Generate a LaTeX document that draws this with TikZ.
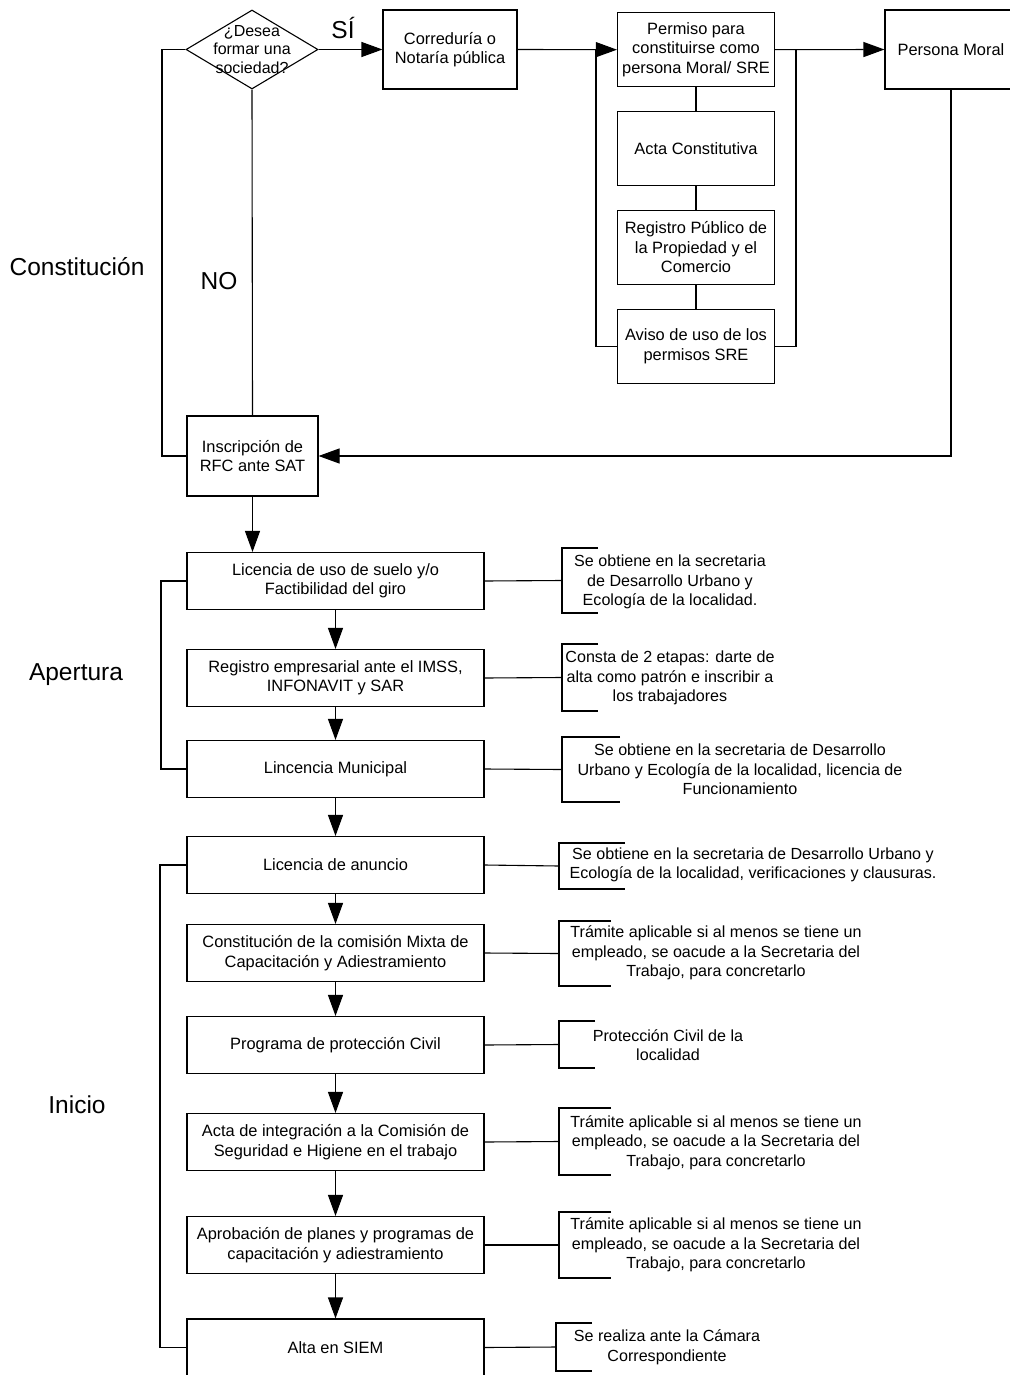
\documentclass[tikz,border=0pt]{standalone}
\usepackage{fontspec}
\setmainfont{Liberation Sans}
\usetikzlibrary{arrows.meta,shapes.geometric,positioning}
\tikzset{>={Stealth[inset=0pt,length=21pt,width=15pt]}}

\begin{document}
\begin{tikzpicture}[x=1pt,y=-1pt,line width=1.1pt,
    caja/.style={draw,rectangle,align=center,inner sep=0pt,font=\fontsize{16.4}{19.5}\selectfont},
    paso/.style={caja,minimum width=297pt,minimum height=57pt},
    nota/.style={align=center,inner sep=0pt,font=\fontsize{16.1}{19.5}\selectfont},
    corchete/.style={inner sep=0pt,outer sep=0pt,minimum width=36pt,anchor=west},
    etapa/.style={font=\fontsize{24.5}{28}\selectfont}]
    \useasboundingbox (0,0) rectangle (1009,1375);
    % Constitucion
    \node[etapa] (etcon) at (77,267) {Constitución};
    \node[draw,diamond,minimum width=132pt,minimum height=79pt,inner sep=0pt] (des) at (252,49.5) {};
    \node[nota,font=\fontsize{16}{18.3}\selectfont] (destxt) at (des) {¿Desea\\formar una\\sociedad?};
    \node[caja,minimum width=134pt,minimum height=79pt] (cor) at (450,49.5) {Correduría o\\Notaría pública};
    \node[caja,minimum width=157pt,minimum height=74pt] (per) at (696,49.7) {Permiso para\\constituirse como\\persona Moral/ SRE};
    \node[caja,minimum width=157pt,minimum height=74pt] (act) at (696,148.7) {Acta Constitutiva};
    \node[caja,minimum width=157pt,minimum height=74pt] (reg) at (696,247.3) {Registro Público de\\la Propiedad y el\\Comercio};
    \node[caja,minimum width=157pt,minimum height=74pt] (avi) at (696,346.3) {Aviso de uso de los\\permisos SRE};
    \node[caja,minimum width=132pt,minimum height=79pt] (mor) at (951,49.5) {Persona Moral};
    \node[caja,minimum width=131pt,minimum height=80pt] (rfc) at (252.5,456) {Inscripción de\\RFC ante SAT};
    \node[etapa] (si) at (343,28) {SÍ};
    \node[etapa] (no) at (219,281) {NO};
    \coordinate (kcon) at (162,0);
    \coordinate (kpi) at (596,0);
    \coordinate (kpd) at (796,0);
    \draw (des.west) -| (kcon |- rfc.west) -- (rfc.west);
    \draw (des.south) -- (rfc.north);
    \draw[->] (des.east) -- (cor.west);
    \draw[->] (cor.east) -- (per.west);
    \draw (kpi |- per.west) |- (avi.west);
    \draw (per.south) -- (act.north);
    \draw (act.south) -- (reg.north);
    \draw (reg.south) -- (avi.north);
    \draw[->] (per.east) -- (mor.west);
    \draw (kpd |- per.east) |- (avi.east);
    \draw[->] (mor.south) |- (rfc.east);

    % Apertura
    \node[etapa] (etape) at (76,675) {Apertura};
    \node[paso] (lic) at (335.5,581) {Licencia de uso de suelo y/o\\Factibilidad del giro};
    \node[paso] (imss) at (335.5,678) {Registro empresarial ante el IMSS,\\INFONAVIT y SAR};
    \node[paso] (mun) at (335.5,769) {Lincencia Municipal};
    \coordinate (kap) at (161,0);
    \draw (lic.west) -| (kap |- mun.west) -- (mun.west);
    \draw[->] (rfc.south) -- (rfc.south |- lic.north);
    \draw[->] (lic.south) -- (imss.north);
    \draw[->] (imss.south) -- (mun.north);

    % Inicio
    \node[etapa] (etini) at (77,1105) {Inicio};
    \node[paso] (anu) at (335.5,865) {Licencia de anuncio};
    \node[paso] (cmx) at (335.5,953) {Constitución de la comisión Mixta de\\Capacitación y Adiestramiento};
    \node[paso] (pc) at (335.5,1045) {Programa de protección Civil};
    \node[paso] (hig) at (335.5,1142) {Acta de integración a la Comisión de\\Seguridad e Higiene en el trabajo};
    \node[paso] (apr) at (335.5,1245) {Aprobación de planes y programas de\\capacitación y adiestramiento};
    \node[paso] (siem) at (335.5,1347.5) {Alta en SIEM};
    \coordinate (kin) at (160,0);
    \draw (anu.west) -| (kin |- siem.west) -- (siem.west);
    \draw[->] (mun.south) -- (anu.north);
    \draw[->] (anu.south) -- (cmx.north);
    \draw[->] (cmx.south) -- (pc.north);
    \draw[->] (pc.south) -- (hig.north);
    \draw[->] (hig.south) -- (apr.north);
    \draw[->] (apr.south) -- (siem.north);

    % notas
    \node[corchete,minimum height=65pt] (c1) at (562,580.5) {};
    \node[nota] (n1) at (670,582) {Se obtiene en la secretaria\\de Desarrollo Urbano y\\Ecología de la localidad.};
    \node[corchete,minimum height=67pt] (c2) at (562,677.5) {};
    \node[nota] (n2) at (670,678) {Consta de 2 etapas: darte de\\alta como patrón e inscribir a\\los trabajadores};
    \node[corchete,minimum height=65pt,minimum width=58pt] (c3) at (562,769.5) {};
    \node[nota] (n3) at (740,769.5) {Se obtiene en la secretaria de Desarrollo\\Urbano y Ecología de la localidad, licencia de\\Funcionamiento};
    \node[corchete,minimum height=46pt,minimum width=66pt] (c4) at (559,866) {};
    \node[nota] (n4) at (753,865) {Se obtiene en la secretaria de Desarrollo Urbano y\\Ecología de la localidad, verificaciones y clausuras.};
    \node[corchete,minimum height=65pt,minimum width=52pt] (c5) at (559,953.5) {};
    \node[nota] (n5) at (716,953) {Trámite aplicable si al menos se tiene un\\empleado, se oacude a la Secretaria del\\Trabajo, para concretarlo};
    \node[corchete,minimum height=47pt] (c6) at (559,1044.5) {};
    \node[nota] (n6) at (668,1045) {Protección Civil de la\\localidad};
    \node[corchete,minimum height=67pt,minimum width=52pt] (c7) at (559,1141.5) {};
    \node[nota] (n7) at (716,1142.5) {Trámite aplicable si al menos se tiene un\\empleado, se oacude a la Secretaria del\\Trabajo, para concretarlo};
    \node[corchete,minimum height=66pt,minimum width=52pt] (c8) at (559,1245) {};
    \node[nota] (n8) at (716,1245) {Trámite aplicable si al menos se tiene un\\empleado, se oacude a la Secretaria del\\Trabajo, para concretarlo};
    \node[corchete,minimum height=48pt] (c9) at (556,1347) {};
    \node[nota] (n9) at (667,1347) {Se realiza ante la Cámara\\Correspondiente};
    \draw (c1.north east) -- (c1.north west) -- (c1.south west) -- (c1.south east);
    \draw (c2.north east) -- (c2.north west) -- (c2.south west) -- (c2.south east);
    \draw (c3.north east) -- (c3.north west) -- (c3.south west) -- (c3.south east);
    \draw (c4.north east) -- (c4.north west) -- (c4.south west) -- (c4.south east);
    \draw (c5.north east) -- (c5.north west) -- (c5.south west) -- (c5.south east);
    \draw (c6.north east) -- (c6.north west) -- (c6.south west) -- (c6.south east);
    \draw (c7.north east) -- (c7.north west) -- (c7.south west) -- (c7.south east);
    \draw (c8.north east) -- (c8.north west) -- (c8.south west) -- (c8.south east);
    \draw (c9.north east) -- (c9.north west) -- (c9.south west) -- (c9.south east);
    \draw (lic.east) -- (c1.west);
    \draw (imss.east) -- (c2.west);
    \draw (mun.east) -- (c3.west);
    \draw (anu.east) -- (c4.west);
    \draw (cmx.east) -- (c5.west);
    \draw (pc.east) -- (c6.west);
    \draw (hig.east) -- (c7.west);
    \draw (apr.east) -- (c8.west);
    \draw (siem.east) -- (c9.west);
\end{tikzpicture}
\end{document}
